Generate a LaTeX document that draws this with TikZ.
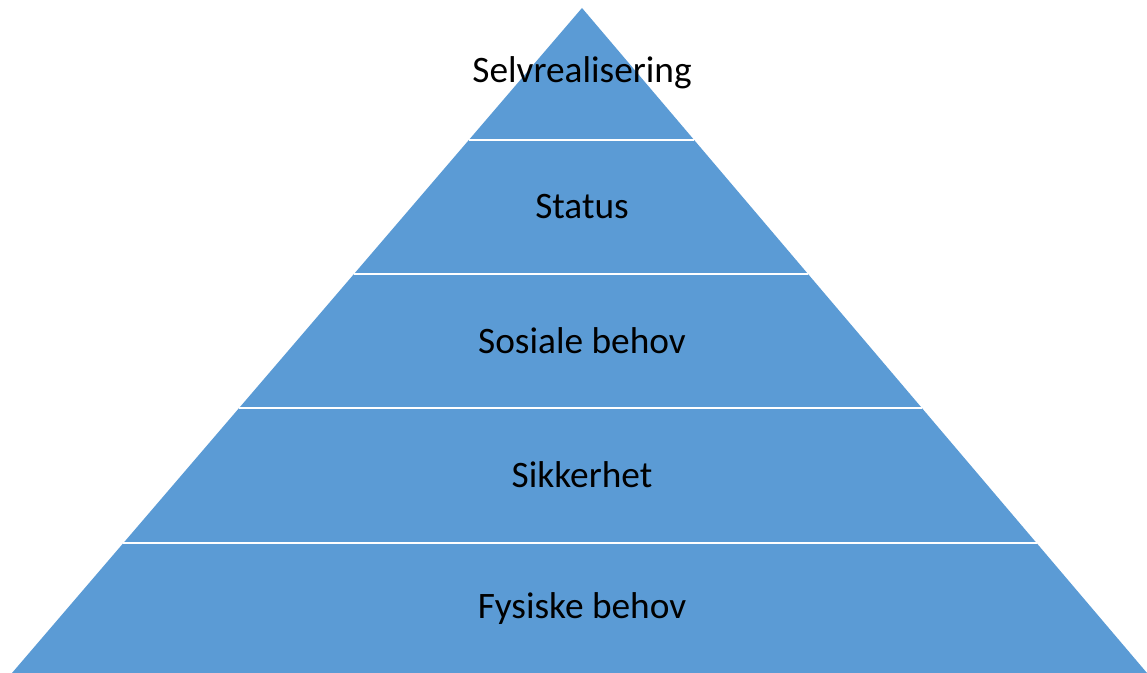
\documentclass[tikz,border=0pt]{standalone}
\usepackage{fontspec}
\setmainfont{Carlito}
\usetikzlibrary{calc}
\definecolor{pyrblue}{HTML}{5B9BD5}
\tikzset{level/.style={font=\fontsize{28}{33}\selectfont,text=black}}

\begin{document}
\begin{tikzpicture}[x=0.75pt,y=0.75pt]
    \useasboundingbox (0,0) rectangle (1147,673);
    \coordinate (L) at (12,0);
    \coordinate (R) at (1147,0);
    \coordinate (A) at (582,665);
    \fill[pyrblue] (L)--(R)--(A)--cycle;
    \foreach \h in {130,265,399,533}
      \draw[white,line width=1.8pt] ($(L)!\h/665!(A)$)--($(R)!\h/665!(A)$);
    \node[level] (fysisk) at (582,64) {Fysiske behov};
    \node[level] (sikker) at (582,198) {Sikkerhet};
    \node[level] (sosial) at (582,332) {Sosiale behov};
    \node[level] (status) at (582,466) {Status};
    \node[level] (selv) at (582,600) {Selvrealisering};
  \end{tikzpicture}
\end{document}
